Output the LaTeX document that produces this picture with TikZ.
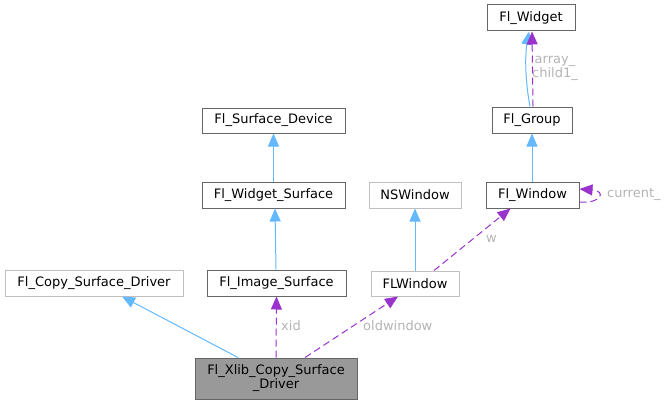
\documentclass[tikz,border=0pt]{standalone}
\usepackage{fontspec}
\setmainfont{DejaVu Sans}
\usetikzlibrary{arrows.meta,calc}
\definecolor{inh}{HTML}{63B8FF}
\definecolor{use}{HTML}{9A32CD}
\definecolor{lbl}{HTML}{B4B4B4}
\definecolor{dkb}{HTML}{666666}
\definecolor{ltb}{HTML}{BFBFBF}
\begin{document}
\begin{tikzpicture}[x=1pt,y=-1pt,
  font=\fontsize{13}{15}\selectfont,
  cls/.style={draw=dkb,line width=1pt,fill=white,inner sep=0pt,minimum height=26pt,text=black},
  ext/.style={cls,draw=ltb},
  inhe/.style={draw=inh,line width=1pt,-{Triangle[length=13pt,width=11pt]}},
  usee/.style={draw=use,line width=1pt,dash pattern=on 7pt off 4pt,-{Triangle[length=13pt,width=11pt]}},
  lab/.style={text=lbl,inner sep=0pt,anchor=west}]
\useasboundingbox (0,0) rectangle (666,404);
\node[cls,minimum width=88pt] (widget) at (531,18) {Fl\_Widget};
\node[cls,minimum width=80pt] (group) at (532,120) {Fl\_Group};
\node[cls,minimum width=93pt] (window) at (532.5,195) {Fl\_Window};
\node[ext,minimum width=92pt] (nswin) at (415,195) {NSWindow};
\node[ext,minimum width=88pt,minimum height=25pt] (flwin) at (415,283.5) {FLWindow};
\node[cls,minimum width=143pt,minimum height=25pt] (surfdev) at (273.5,120.5) {Fl\_Surface\_Device};
\node[cls,minimum width=143pt] (widgsurf) at (273.5,195) {Fl\_Widget\_Surface};
\node[cls,minimum width=139pt] (imgsurf) at (276.5,283) {Fl\_Image\_Surface};
\node[ext,minimum width=178pt] (copydrv) at (94,283) {Fl\_Copy\_Surface\_Driver};
\node[cls,fill=black!40,minimum width=162pt,minimum height=41pt,align=center,font=\fontsize{13}{14}\selectfont] (xlib) at (276,378.5) {Fl\_Xlib\_Copy\_Surface\\\_Driver};
% inheritance
\draw[inhe] ($(xlib.north)+(-38,0)$) -- ($(copydrv.south)+(28,0)$);
\draw[inhe] (widgsurf.north) -- (surfdev.south);
\draw[inhe] ($(imgsurf.north)+(-0.5,0)$) -- ($(widgsurf.south)+(1.5,0)$);
\draw[inhe] (flwin.north) -- (nswin.south);
\draw[inhe] ($(window.north)+(-0.5,0)$) -- (group.south);
\draw[inhe] ($(group.north)+(-2,0)$) .. controls (525,80) and (525,55) .. ($(widget.south)+(-2,0)$);
% usage
\draw[usee] (xlib.north) -- (imgsurf.south);
\node[lab] (lxid) at (281,326) {xid};
\draw[usee] ($(xlib.north)+(29,0)$) -- ($(flwin.south)+(-17,0)$);
\node[lab] (lold) at (363,326) {oldwindow};
\draw[usee] ($(flwin.north)+(19,0)$) -- ($(window.south)+(-22,0)$);
\node[lab] (lw) at (486,239) {w};
\draw[usee] ($(window.east)+(0,7)$) .. controls (601,204) and (607,191) .. ($(window.east)+(0,-6)$);
\node[lab] (lcur) at (607,194) {current\_};
\draw[usee] ($(group.north)+(1,0)$) -- ($(widget.south)+(1,0)$);
\node[text=lbl,inner sep=0pt,align=center,font=\fontsize{13}{14}\selectfont] (larr) at (555,68.5) {array\_\\child1\_};
\end{tikzpicture}
\end{document}
